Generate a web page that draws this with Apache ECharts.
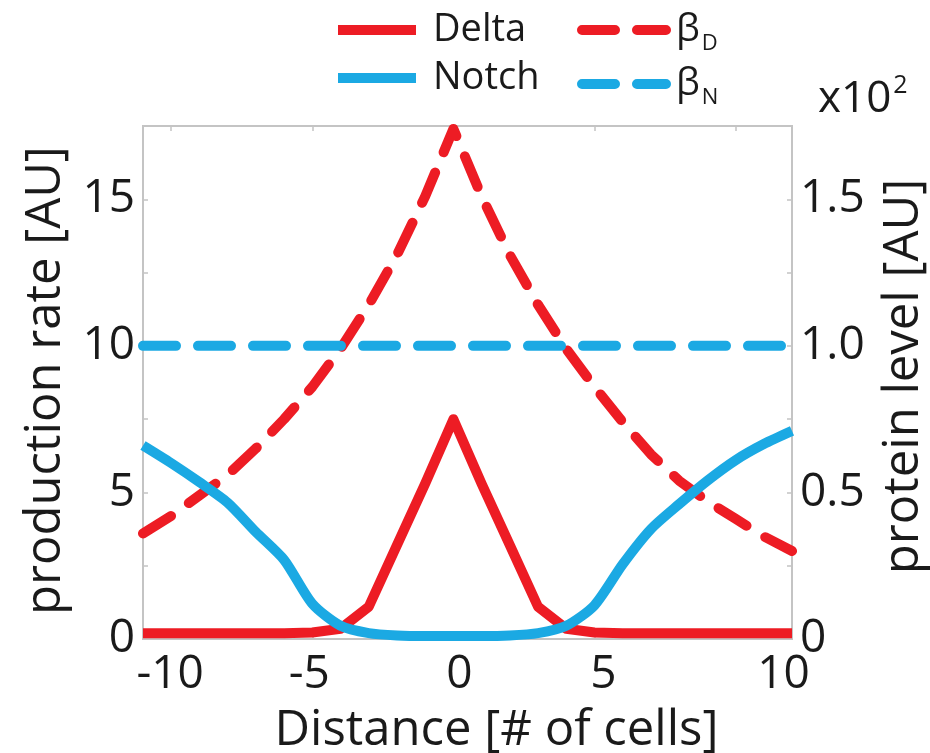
<!DOCTYPE html>
<html>
<head>
<meta charset="utf-8">
<script src="https://cdn.jsdelivr.net/npm/echarts@6/dist/echarts.min.js"></script>
<style>
  html, body { margin: 0; padding: 0; background: #fff; }
  #chart { width: 930px; height: 753px; }
</style>
</head>
<body>
<div id="chart"></div>
<script>
// Cell positions along the row (distance from the sender, in cells)
const cells = [-11, -10, -9, -8, -7, -6, -5, -4, -3, -2, -1, 0, 1, 2, 3, 4, 5, 6, 7, 8, 9, 10, 11, 12];

// Production rates (left axis, AU)
const betaD = [3.6, 4.2, 4.9, 5.6, 6.5, 7.5, 8.6, 9.9, 11.4, 13.1, 15.1, 17.4, 15.1, 13.1, 11.4, 9.9, 8.6, 7.4, 6.3, 5.4, 4.7, 4.1, 3.5, 3.0];
const betaN = [10, 10, 10, 10, 10, 10, 10, 10, 10, 10, 10, 10, 10, 10, 10, 10, 10, 10, 10, 10, 10, 10, 10, 10];

// Protein levels (right axis, x10^2 AU)
const delta = [0.02, 0.02, 0.02, 0.02, 0.02, 0.02, 0.022, 0.035, 0.11, 0.32, 0.53, 0.75, 0.53, 0.32, 0.11, 0.035, 0.022, 0.02, 0.02, 0.02, 0.02, 0.02, 0.02, 0.02];
const notch = [0.66, 0.60, 0.535, 0.465, 0.365, 0.27, 0.12, 0.045, 0.02, 0.012, 0.01, 0.01, 0.01, 0.012, 0.02, 0.045, 0.115, 0.255, 0.375, 0.46, 0.54, 0.61, 0.665, 0.71];

// Tick labels
const xTicks = [-10, -5, 0, 5, 10];
const leftTicks = [0, 5, 10, 15];
const rightTicks = [0, 0.5, 1.0, 1.5];

// Horizontal nudges of the x tick labels (rich-text padding, px)
const xLabelPad = { '-10': [0, 2, 0, 0], '-5': [0, 6, 0, 0], '0': [0, 0, 0, 12], '5': [0, 0, 0, 18], '10': [0, 0, 0, 96] };

const RED = '#ED1C24';
const BLUE = '#1BA9E3';
const FRAME = '#c4c4c4';
const INK = '#1a1a1a';
const FONT = "'Open Sans', 'Noto Sans', sans-serif";
const DASH = [33, 22];
const TICK_FONT = 46;
const NAME_FONT = 49;

const pairs = (ys) => cells.map((x, i) => [x, ys[i]]);

const xLabelRich = {};
xTicks.forEach((v, i) => {
  xLabelRich['t' + i] = { fontSize: TICK_FONT, fontFamily: FONT, color: INK, padding: xLabelPad[String(v)] };
});

const legendRich = {
  n: { fontSize: 38, fontFamily: FONT, color: INK, lineHeight: 44, padding: [0, 0, 0, 12] },
  b: { fontSize: 38, fontFamily: FONT, color: INK, lineHeight: 44, padding: [0, 0, 0, 5] },
  s: { fontSize: 22, fontFamily: FONT, color: INK, padding: [28, 0, 0, 2] }
};

const legendFormatter = (name) => {
  if (name === 'βD') return '{b|β}{s|D}';
  if (name === 'βN') return '{b|β}{s|N}';
  return '{n|' + name + '}';
};

const tickStyle = { show: true, inside: true, length: 5, lineStyle: { color: FRAME, width: 1.5 } };

const chart = echarts.init(document.getElementById('chart'), null, { renderer: 'canvas' });

chart.setOption({
  animation: false,
  backgroundColor: '#fff',
  textStyle: { fontFamily: FONT, color: INK },
  title: {
    left: 813,
    top: 68,
    text: '{a|x10}{p|2}',
    textStyle: {
      fontWeight: 'normal',
      rich: {
        a: { fontSize: 44, fontFamily: FONT, fontWeight: 'normal', color: INK, lineHeight: 46 },
        p: { fontSize: 25, fontFamily: FONT, fontWeight: 'normal', color: INK, padding: [0, 0, 27, 2] }
      }
    }
  },
  legend: [
    {
      data: ['Delta', 'Notch'],
      orient: 'vertical',
      left: 333,
      top: 11,
      padding: 0,
      itemWidth: 78,
      itemHeight: 2,
      itemGap: 10,
      itemStyle: { opacity: 0 },
      lineStyle: { width: 10 },
      formatter: legendFormatter,
      textStyle: { rich: legendRich }
    },
    {
      data: ['βD', 'βN'],
      orient: 'vertical',
      left: 577,
      top: 11,
      padding: 0,
      itemWidth: 84,
      itemHeight: 2,
      itemGap: 10,
      itemStyle: { opacity: 0 },
      lineStyle: { width: 10, cap: 'round' },
      formatter: legendFormatter,
      textStyle: { rich: legendRich }
    }
  ],
  grid: {
    left: 143,
    right: 138,
    top: 126,
    bottom: 114,
    outerBoundsMode: 'none',
    containLabel: false,
    show: true,
    borderColor: FRAME,
    borderWidth: 2,
    backgroundColor: '#fff'
  },
  xAxis: [
    {
      type: 'value',
      min: -11,
      max: 12,
      position: 'bottom',
      axisLine: { show: false, onZero: false },
      splitLine: { show: false },
      axisTick: Object.assign({ customValues: xTicks }, tickStyle),
      axisLabel: {
        customValues: xTicks,
        margin: 13,
        formatter: (v) => {
          const i = xTicks.indexOf(v);
          return '{t' + i + '|' + v + '}';
        },
        rich: xLabelRich
      },
      name: 'Distance [# of cells]',
      nameLocation: 'middle',
      nameGap: 68,
      nameTextStyle: { fontSize: NAME_FONT, fontFamily: FONT, color: INK, padding: [0, 0, 0, 58] }
    },
    {
      type: 'value',
      min: -11,
      max: 12,
      position: 'top',
      axisLine: { show: false, onZero: false },
      splitLine: { show: false },
      axisLabel: { show: false },
      axisTick: Object.assign({ customValues: xTicks }, tickStyle)
    }
  ],
  yAxis: [
    {
      type: 'value',
      min: 0,
      max: 17.5,
      interval: 2.5,
      position: 'left',
      axisLine: { show: false, onZero: false },
      splitLine: { show: false },
      axisTick: tickStyle,
      axisLabel: {
        fontSize: TICK_FONT,
        fontFamily: FONT,
        color: INK,
        margin: 8,
        formatter: (v) => (leftTicks.indexOf(v) >= 0 ? String(v) : '')
      },
      name: 'production rate [AU]',
      nameLocation: 'middle',
      nameGap: 72,
      nameTextStyle: { fontSize: NAME_FONT, fontFamily: FONT, color: INK, padding: [0, 0, 0, 4] }
    },
    {
      type: 'value',
      min: 0,
      max: 1.75,
      interval: 0.25,
      position: 'right',
      axisLine: { show: false, onZero: false },
      splitLine: { show: false },
      axisTick: tickStyle,
      axisLabel: {
        fontSize: TICK_FONT,
        fontFamily: FONT,
        color: INK,
        margin: 8,
        formatter: (v) => {
          const hit = rightTicks.find((t) => Math.abs(t - v) < 1e-9);
          if (hit === undefined) return '';
          return hit === 0 ? '0' : hit.toFixed(1);
        }
      },
      name: 'protein level [AU]',
      nameLocation: 'middle',
      nameGap: 88,
      nameTextStyle: { fontSize: NAME_FONT, fontFamily: FONT, color: INK, padding: [0, 0, 0, 12] }
    }
  ],
  series: [
    {
      name: 'βD',
      type: 'line',
      xAxisIndex: 0,
      yAxisIndex: 0,
      data: pairs(betaD),
      symbol: 'none',
      color: RED,
      lineStyle: { color: RED, width: 10, type: DASH, cap: 'round', join: 'round' }
    },
    {
      name: 'βN',
      type: 'line',
      xAxisIndex: 0,
      yAxisIndex: 0,
      data: pairs(betaN),
      symbol: 'none',
      color: BLUE,
      lineStyle: { color: BLUE, width: 10, type: DASH, cap: 'round', join: 'round' }
    },
    {
      name: 'Delta',
      type: 'line',
      xAxisIndex: 0,
      yAxisIndex: 1,
      data: pairs(delta),
      symbol: 'none',
      color: RED,
      lineStyle: { color: RED, width: 10, join: 'round' }
    },
    {
      name: 'Notch',
      type: 'line',
      xAxisIndex: 0,
      yAxisIndex: 1,
      data: pairs(notch),
      symbol: 'none',
      smooth: 0.25,
      color: BLUE,
      lineStyle: { color: BLUE, width: 10, join: 'round' }
    }
  ]
});
</script>
</body>
</html>
